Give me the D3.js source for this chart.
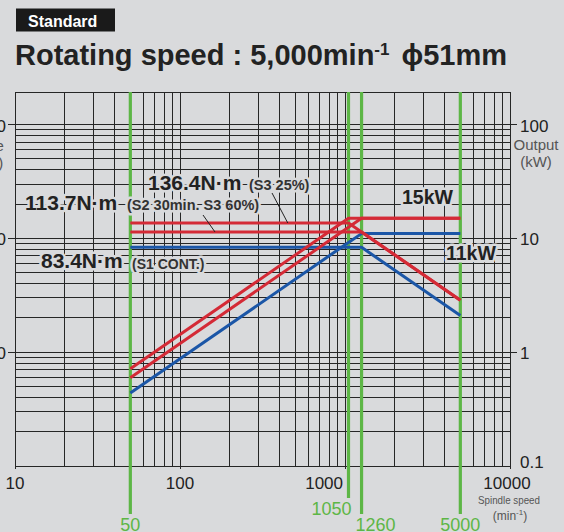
<!DOCTYPE html>
<html><head><meta charset="utf-8">
<script src="https://cdn.jsdelivr.net/npm/d3@7"></script>
<style>
html,body{margin:0;padding:0;background:#d9dadc;}
svg{display:block;font-family:"Liberation Sans",Arial,sans-serif;}
</style></head><body>
<svg id="chart" width="564" height="532"></svg>
<script>
// Spindle speed break points (min^-1)
const speeds = [50, 1050, 1260, 5000];

// Torque characteristics (N·m)
const torqueS3_25 = [136.4, 136.4, 113.7, 28.6];
const torqueS2_S3_60 = [113.7, 113.7, 113.7, 28.6];
const torqueS1 = [83.4, 83.4, 83.4, 21.0];

// Output characteristics (kW)
const outputS3_25 = [0.714, 15, 15, 15];
const outputS2_S3_60 = [0.595, 12.5, 15, 15];
const outputS1 = [0.437, 9.2, 11, 11];

// Axis ticks and marked speeds
const speedTicks = [10, 100, 1000, 10000];
const outputTicks = [0.1, 1, 10, 100];
const torqueTicks = [10, 100, 1000];
const markedSpeeds = [50, 1050, 1260, 5000];

// Annotation texts
const torqueLabels = ["136.4N·m", "113.7N·m", "83.4N·m"];
const dutyLabels = ["(S3 25%)", "(S2 30min. S3 60%)", "(S1 CONT.)"];
const powerLabels = ["15kW", "11kW"];

const BG = "#d9dadc", RED = "#d42a36", BLUE = "#1b56a7", GREEN = "#5db646", INK = "#222";

const svg = d3.select("#chart");
const pLeft = 15, pRight = 510, pTop = 92, pBottom = 466;

const x = d3.scaleLog().domain([10, 10000]).range([pLeft, pRight]);
const yP = d3.scaleLog().domain([0.1, 100]).range([pBottom, 124.5]);
const yT = d3.scaleLog().domain([1, 1000]).range([pBottom, 124.5]);

svg.append("rect").attr("width", 564).attr("height", 532).attr("fill", BG);

// Header badge and title
svg.append("rect").attr("x", 16).attr("y", 8.5).attr("width", 99).attr("height", 23).attr("fill", "#1a1a1a");
svg.append("text").attr("x", 28).attr("y", 26.5).attr("fill", "#fff")
  .attr("font-size", 16).attr("font-weight", "bold").text("Standard");

const title = svg.append("text").attr("x", 15).attr("y", 65).attr("fill", INK)
  .attr("font-size", 29).attr("font-weight", "bold");
title.append("tspan").text("Rotating speed : 5,000min");
title.append("tspan").attr("font-size", 17).attr("dy", -10).text("-1");
title.append("tspan").attr("dy", 10).attr("dx", 12).text("ϕ");
title.append("tspan").text("51mm");

// Log grid
const g = svg.append("g").attr("stroke", "#262626").attr("stroke-width", 1).attr("shape-rendering", "crispEdges");
const vx = [];
for (let d = 10; d < 10000; d *= 10) for (let k = 1; k < 10; k++) vx.push(k * d);
vx.push(10000);
g.selectAll("line.v").data(vx).join("line").attr("class", "v")
  .attr("x1", d => x(d)).attr("x2", d => x(d)).attr("y1", pTop).attr("y2", pBottom);
const hy = [];
for (let d = 0.1; d < 100; d *= 10) for (let k = 1; k < 10; k++) hy.push(+(k * d).toFixed(3));
hy.push(100);
g.selectAll("line.h").data(hy).join("line").attr("class", "h")
  .attr("x1", pLeft).attr("x2", pRight).attr("y1", d => yP(d)).attr("y2", d => yP(d));
g.append("line").attr("x1", pLeft).attr("x2", pRight).attr("y1", pTop).attr("y2", pTop);

// Axis ticks
g.selectAll("line.rt").data(outputTicks.slice(1)).join("line").attr("class", "rt")
  .attr("x1", pRight).attr("x2", pRight + 7).attr("y1", d => yP(d)).attr("y2", d => yP(d));
g.selectAll("line.lt").data(torqueTicks).join("line").attr("class", "lt")
  .attr("x1", pLeft - 7).attr("x2", pLeft).attr("y1", d => yT(d)).attr("y2", d => yT(d));
g.selectAll("line.bt").data(speedTicks).join("line").attr("class", "bt")
  .attr("x1", d => x(d)).attr("x2", d => x(d)).attr("y1", pBottom).attr("y2", pBottom + 3);

// Tick labels
const tl = svg.append("g").attr("fill", INK).attr("font-size", 17);
tl.selectAll("text.r").data(outputTicks).join("text").attr("class", "r")
  .attr("x", pRight + 10).attr("y", d => yP(d) + (d === 0.1 ? 2 : 7)).text(d => d3.format("~g")(d));
tl.selectAll("text.l").data(torqueTicks).join("text").attr("class", "l")
  .attr("text-anchor", "end").attr("x", 6).attr("y", d => yT(d) + 7).text(d => d);
tl.selectAll("text.b").data(speedTicks).join("text").attr("class", "b")
  .attr("text-anchor", d => d === 1000 ? "end" : "middle")
  .attr("x", d => d === 1000 ? x(d) - 2 : (d === 10000 ? x(d) - 3 : x(d)))
  .attr("y", pBottom + 23).text(d => d);

// Axis titles
const at = svg.append("g").attr("fill", "#555").attr("text-anchor", "middle");
at.append("text").attr("x", 536).attr("y", 150).attr("font-size", 15).text("Output");
at.append("text").attr("x", 536).attr("y", 167).attr("font-size", 15).text("(kW)");
at.append("text").attr("x", -19).attr("y", 151).attr("font-size", 15).text("Torque");
at.append("text").attr("x", -16).attr("y", 168).attr("font-size", 15).text("(N·m)");
at.append("text").attr("x", 509).attr("y", 504).attr("font-size", 11.5).attr("textLength", 62)
  .attr("lengthAdjust", "spacingAndGlyphs").text("Spindle speed");
const mu = at.append("text").attr("x", 510).attr("y", 520).attr("font-size", 12);
mu.append("tspan").text("(min");
mu.append("tspan").attr("font-size", 8).attr("dy", -5).text("-1");
mu.append("tspan").attr("dy", 5).text(")");

// Marked speed lines
const greenEnd = d => d === 1050 ? 498 : 514;
svg.append("g").attr("stroke", GREEN).attr("stroke-width", 3.2)
  .selectAll("line").data(markedSpeeds).join("line")
  .attr("x1", d => x(d)).attr("x2", d => x(d)).attr("y1", pTop).attr("y2", greenEnd);
const gl = svg.append("g").attr("fill", GREEN).attr("font-size", 18);
gl.selectAll("text").data(markedSpeeds).join("text")
  .attr("text-anchor", d => d === 1050 ? "end" : (d === 1260 ? "start" : "middle"))
  .attr("x", d => d === 1050 ? x(d) + 3 : (d === 1260 ? x(d) - 6 : x(d)))
  .attr("y", d => d === 1050 ? 515 : 531).text(d => d);

// Characteristic curves
const torqueLine = d3.line().x((d, i) => x(speeds[i])).y(d => yT(d));
const outputLine = d3.line().x((d, i) => x(speeds[i])).y(d => yP(d));
const curves = [
  { v: torqueS1, f: torqueLine, c: BLUE }, { v: outputS1, f: outputLine, c: BLUE },
  { v: torqueS2_S3_60, f: torqueLine, c: RED }, { v: outputS2_S3_60, f: outputLine, c: RED },
  { v: torqueS3_25, f: torqueLine, c: RED }, { v: outputS3_25, f: outputLine, c: RED }
];
svg.append("g").attr("fill", "none").attr("stroke-width", 3).attr("stroke-linejoin", "round")
  .selectAll("path").data(curves).join("path")
  .attr("stroke", d => d.c).attr("d", d => d.f(d.v));

// Leader lines from duty labels to torque lines
const leaders = [
  { x0: 272, y0: 193, s: 450, t: torqueS3_25[0] },
  { x0: 203, y0: 215, s: 163, t: torqueS2_S3_60[0] }
];
svg.append("g").attr("stroke", "#222").attr("stroke-width", 1)
  .selectAll("line").data(leaders).join("line")
  .attr("x1", d => d.x0).attr("y1", d => d.y0).attr("x2", d => x(d.s)).attr("y2", d => yT(d.t));

// Value labels with background halo
const lab = svg.append("g").attr("fill", INK).attr("font-weight", "bold")
  .attr("stroke", BG).attr("stroke-width", 5).attr("stroke-linejoin", "round").attr("paint-order", "stroke");
lab.append("text").attr("x", 148).attr("y", 190).attr("font-size", 21).text(torqueLabels[0]);
lab.append("text").attr("x", 249).attr("y", 190).attr("font-size", 14.5).attr("fill", "#333").text(dutyLabels[0]);
lab.append("text").attr("x", 25).attr("y", 210).attr("font-size", 21).text(torqueLabels[1]);
lab.append("text").attr("x", 127).attr("y", 210).attr("font-size", 14.5).attr("fill", "#333").text(dutyLabels[1]);
lab.append("text").attr("x", 41).attr("y", 268).attr("font-size", 21).text(torqueLabels[2]);
lab.append("text").attr("x", 132).attr("y", 269).attr("font-size", 14).attr("fill", "#333").text(dutyLabels[2]);
lab.append("text").attr("x", 402).attr("y", 204).attr("font-size", 19.5).text(powerLabels[0]);
lab.append("text").attr("x", 446).attr("y", 260).attr("font-size", 19.5).text(powerLabels[1]);
</script></body></html>
